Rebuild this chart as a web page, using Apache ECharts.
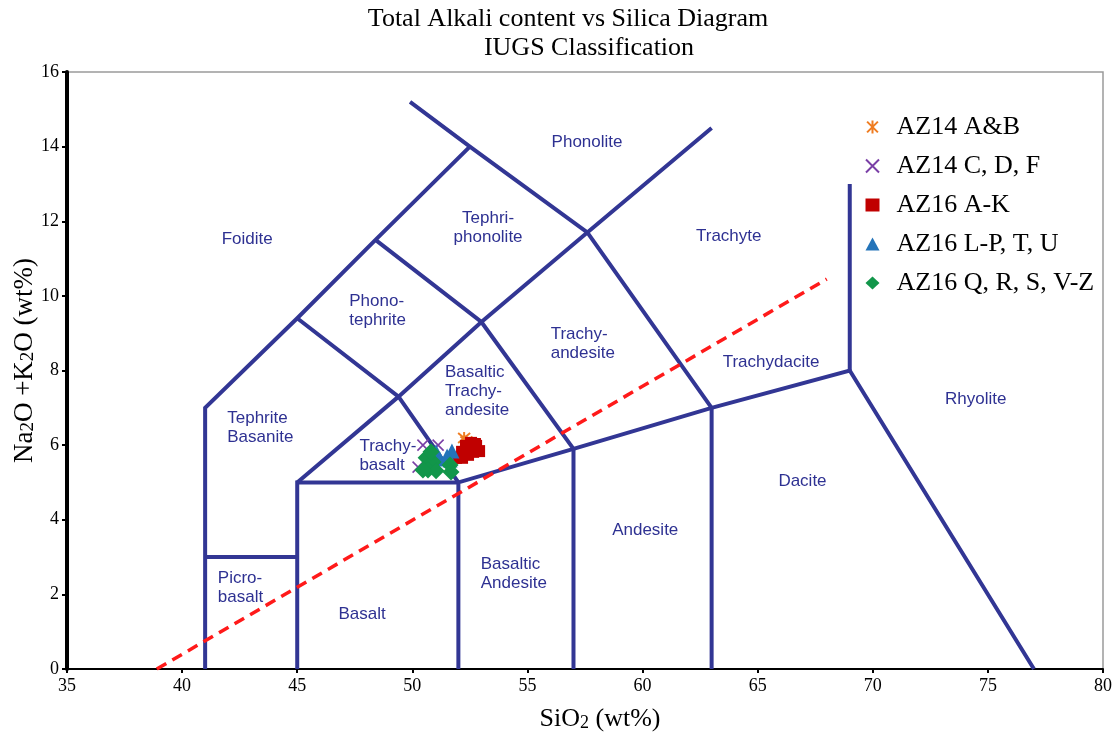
<!DOCTYPE html>
<html>
<head>
<meta charset="utf-8">
<title>TAS Diagram</title>
<script src="https://cdn.jsdelivr.net/npm/echarts@6/dist/echarts.min.js"></script>
<style>
  html, body { margin: 0; padding: 0; background: #fff; }
  #chart { width: 1116px; height: 736px; }
</style>
</head>
<body>
<div id="chart"></div>
<script>
// Sample compositions: [SiO2 wt%, Na2O+K2O wt%]
const az14AB = [[52.25, 6.19], [52.35, 6.10]];
const az14CDF = [[50.46, 6.00], [51.12, 6.00], [50.25, 5.41]];
const az16AK = [
  [52.16, 5.82], [52.33, 5.98], [52.55, 6.06], [52.77, 5.98], [52.90, 5.84],
  [52.64, 5.82], [52.42, 5.74], [52.16, 5.66], [51.90, 5.66], [52.72, 6.03], [52.51, 5.92]
];
const az16LPTU = [
  [51.03, 5.82], [51.72, 5.84], [51.20, 5.63], [50.73, 5.68],
  [50.90, 5.74], [51.51, 5.71], [51.64, 5.60]
];
const az16QRSVZ = [
  [50.60, 5.66], [50.90, 5.55], [50.68, 5.33], [51.03, 5.31],
  [51.64, 5.47], [51.68, 5.28], [50.46, 5.33], [50.81, 5.82]
];

// Field boundaries (IUGS TAS classification)
const boundaries = [
  [[41, 0], [41, 7], [45, 9.4], [48.4, 11.5], [52.5, 14]],
  [[41, 3], [45, 3]],
  [[45, 0], [45, 5], [52, 5]],
  [[52, 0], [52, 5], [57, 5.9], [63, 7], [69, 8], [77, 0]],
  [[57, 0], [57, 5.9]],
  [[63, 0], [63, 7]],
  [[69, 8], [69, 13]],
  [[45, 5], [49.4, 7.3], [53, 9.3], [57.6, 11.7], [63, 14.5]],
  [[52, 5], [49.4, 7.3], [45, 9.4]],
  [[57, 5.9], [53, 9.3], [48.4, 11.5]],
  [[63, 7], [57.6, 11.7], [52.5, 14], [49.9, 15.2]]
];

// Alkaline / subalkaline divide
const alkalineDivide = [[38.9, 0], [68, 10.45]];

// Field names and their anchor points (left edge, vertical middle)
const fieldNames = [
  'Foidite', 'Phonolite', 'Tephri-\nphonolite', 'Trachyte', 'Phono-\ntephrite',
  'Trachy-\nandesite', 'Trachydacite', 'Basaltic\nTrachy-\nandesite', 'Rhyolite',
  'Tephrite\nBasanite', 'Trachy-\nbasalt', 'Dacite', 'Andesite',
  'Basaltic\nAndesite', 'Picro-\nbasalt', 'Basalt'
];
const fieldAnchors = [
  [41.72, 11.52], [56.05, 14.12], [53.29, 11.82], [62.32, 11.59], [47.26, 9.61],
  [56.01, 8.71], [63.48, 8.21], [51.42, 7.44], [73.14, 7.23],
  [41.96, 6.47], [47.70, 5.72], [65.90, 5.02], [58.68, 3.73],
  [52.97, 2.55], [41.55, 2.17], [46.79, 1.47]
];

const xTicks = { min: 35, max: 80, interval: 5 };
const yTicks = { min: 0, max: 16, interval: 2 };

const serif = '"Liberation Serif", "Times New Roman", serif';
const sans = '"Liberation Sans", Arial, sans-serif';
const fieldColor = '#2e3192';
const lineColor = '#323694';

const chart = echarts.init(document.getElementById('chart'));

const boundarySeries = {
  type: 'lines',
  coordinateSystem: 'cartesian2d',
  polyline: true,
  silent: true,
  z: 2,
  lineStyle: { color: lineColor, width: 4, opacity: 1, cap: 'butt', join: 'miter' },
  data: boundaries.map(c => ({ coords: c }))
};

const fieldLabelSeries = {
  type: 'scatter',
  silent: true,
  symbolSize: 0,
  z: 1,
  itemStyle: { opacity: 1 },
  label: {
    show: true,
    position: 'right',
    distance: 0,
    align: 'left',
    verticalAlign: 'middle',
    formatter: '{b}',
    fontFamily: sans,
    fontSize: 17,
    lineHeight: 19,
    color: fieldColor
  },
  data: fieldNames.map((n, i) => {
    const item = { name: n, value: fieldAnchors[i] };
    if (n.indexOf('Tephri-') === 0) {
      item.label = { position: 'inside', align: 'center' };
    }
    return item;
  })
};

const divideSeries = {
  type: 'line',
  silent: true,
  showSymbol: false,
  symbol: 'none',
  z: 3,
  lineStyle: { color: '#ff1a1a', width: 3.5, type: [11, 7] },
  data: alkalineDivide
};

const asterisk = 'path://M0,0L10,10M10,0L0,10M5,-1L5,11';
const cross = 'path://M0,0L10,10M10,0L0,10';

const sampleSeries = [
  { name: 'AZ14 A&B', data: az14AB, symbol: asterisk, symbolSize: 12,
    itemStyle: { color: 'rgba(0,0,0,0)', borderColor: '#ef7d22', borderWidth: 2, opacity: 1 } },
  { name: 'AZ14 C, D, F', data: az14CDF, symbol: cross, symbolSize: 11,
    itemStyle: { color: 'rgba(0,0,0,0)', borderColor: '#7a3fa6', borderWidth: 1.6, opacity: 1 } },
  { name: 'AZ16 A-K', data: az16AK, symbol: 'rect', symbolSize: 12,
    itemStyle: { color: '#c00000', opacity: 1 } },
  { name: 'AZ16 L-P, T, U', data: az16LPTU, symbol: 'triangle', symbolSize: 15,
    itemStyle: { color: '#2474b9', opacity: 1 } },
  { name: 'AZ16 Q, R, S, V-Z', data: az16QRSVZ, symbol: 'diamond', symbolSize: 17,
    itemStyle: { color: '#12964a', opacity: 1 } }
].map(s => Object.assign({ type: 'scatter', z: 5 }, s));

const option = {
  backgroundColor: '#ffffff',
  animation: false,
  graphic: [
    { type: 'text', x: 568, y: 19, style: { text: 'Total Alkali content vs Silica Diagram',
      font: '26px ' + serif, fill: '#000', textAlign: 'center', textVerticalAlign: 'middle' } },
    { type: 'text', x: 589, y: 48, style: { text: 'IUGS Classification',
      font: '26px ' + serif, fill: '#000', textAlign: 'center', textVerticalAlign: 'middle' } }
  ],
  grid: {
    left: 67, right: 13, top: 72, bottom: 67,
    outerBoundsMode: 'none',
    containLabel: false,
    show: true, borderColor: '#9a9a9a', borderWidth: 1.5, backgroundColor: 'transparent'
  },
  legend: {
    orient: 'vertical',
    left: 860,
    top: 109,
    itemWidth: 14,
    itemHeight: 13,
    itemGap: 13,
    data: sampleSeries.map(s => s.name),
    textStyle: { fontFamily: serif, fontSize: 26, color: '#000', padding: [0, 0, 0, 12] },
    selectedMode: false
  },
  xAxis: {
    type: 'value',
    min: xTicks.min, max: xTicks.max, interval: xTicks.interval,
    name: '{t|SiO}{s|2}{t| (wt%)}',
    nameLocation: 'middle',
    nameGap: 37,
    nameMoveOverlap: false,
    nameTextStyle: {
      padding: [0, 0, 0, 30],
      rich: {
        t: { fontFamily: serif, fontSize: 26, color: '#000' },
        s: { fontFamily: serif, fontSize: 18, color: '#000', verticalAlign: 'bottom', padding: [7, 0, 0, 0] }
      }
    },
    axisLine: { show: true, onZero: false, lineStyle: { color: '#000', width: 2 } },
    axisTick: { show: true, inside: false, length: 4, lineStyle: { color: '#000', width: 2 } },
    axisLabel: { fontFamily: serif, fontSize: 18, color: '#000', margin: 8 },
    splitLine: { show: false }
  },
  yAxis: {
    type: 'value',
    min: yTicks.min, max: yTicks.max, interval: yTicks.interval,
    name: '{t|Na}{s|2}{t|O +K}{s|2}{t|O (wt%)}',
    nameLocation: 'middle',
    nameRotate: 90,
    nameGap: 29,
    nameMoveOverlap: false,
    nameTextStyle: {
      padding: [0, 0, 0, 20],
      rich: {
        t: { fontFamily: serif, fontSize: 27, color: '#000' },
        s: { fontFamily: serif, fontSize: 19, color: '#000', verticalAlign: 'bottom', padding: [7, 0, 0, 0] }
      }
    },
    axisLine: { show: true, onZero: false, lineStyle: { color: '#000', width: 4 } },
    axisTick: { show: true, inside: false, length: 5, lineStyle: { color: '#000', width: 2 } },
    axisLabel: { fontFamily: serif, fontSize: 18, color: '#000', margin: 8 },
    splitLine: { show: false }
  },
  series: [fieldLabelSeries, boundarySeries, divideSeries].concat(sampleSeries)
};

chart.setOption(option);
</script>
</body>
</html>
